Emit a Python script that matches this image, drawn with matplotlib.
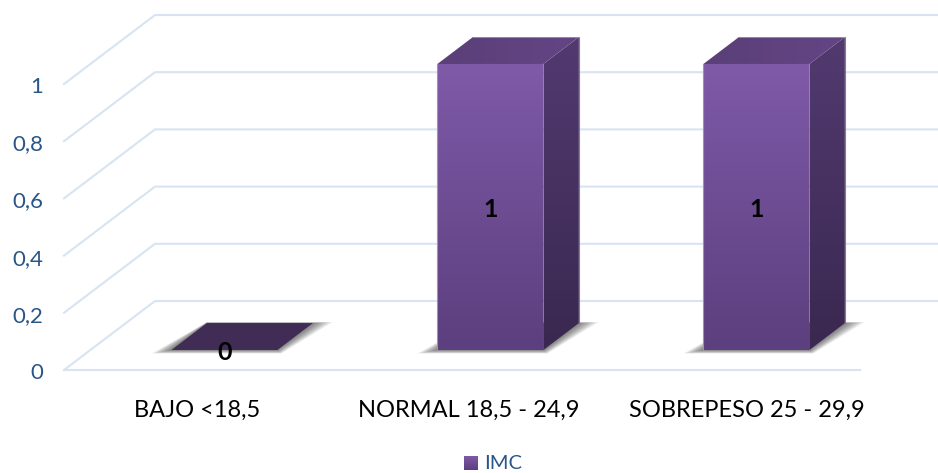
import numpy as np
import matplotlib
matplotlib.use("Agg")
import matplotlib.pyplot as plt
from matplotlib.colors import LinearSegmentedColormap
from matplotlib.patches import Polygon

categories = ["BAJO <18,5", "NORMAL 18,5 - 24,9", "SOBREPESO 25 - 29,9"]
values = [0, 1, 1]
value_labels = ["0", "1", "1"]
grid_levels = [0, 0.2, 0.4, 0.6, 0.8, 1]
tick_labels = ["0", "0,2", "0,4", "0,6", "0,8", "1"]
series_name = "IMC"

plt.rcParams["font.family"] = ["Lato", "DejaVu Sans"]

BLUE = "#2a5587"
GRID = "#d8e4f3"

# oblique projection: value scale plus a depth shift, in figure pixels
y0, unit = 370, 286
dx, dy = 91, -69
near, far = 0.29, 0.68
bar_w = 106
left0, step = 145, 266
label_x = [197, 469, 747]


def project(x, v, d=0):
    return x + dx * d, y0 - unit * v + dy * d


def shaded(ax, pts, top, bottom, horizontal=False):
    # polygon filled with a linear gradient
    poly = Polygon(pts, closed=True, fc="none", ec="none", transform=ax.transData)
    ax.add_patch(poly)
    cmap = LinearSegmentedColormap.from_list("g", [top, bottom])
    grad = np.linspace(0, 1, 256).reshape(-1, 1)
    if horizontal:
        grad = grad.T
    xs, ys = zip(*pts)
    im = ax.imshow(grad, cmap=cmap, aspect="auto", zorder=3, interpolation="bilinear",
                   extent=(min(xs), max(xs), max(ys), min(ys)))
    im.set_clip_path(poly)


fig = plt.figure(figsize=(9.38, 4.73), dpi=100)
ax = fig.add_axes([0, 0, 1, 1])

# floor edge and the wall grid
for i, level in enumerate(grid_levels):
    xa, ya = project(64, level)
    xb, yb = project(64, level, 1)
    ax.plot([xa, xb, 938], [ya, yb, yb], color=GRID, lw=1.5, zorder=1,
            solid_joinstyle="miter")
    ax.text(43, ya + 1, tick_labels[i], color=BLUE, fontsize=16,
            ha="right", va="center_baseline")
ax.plot([64, 860], [y0, y0], color=GRID, lw=1.5, zorder=1)

for i, v in enumerate(values):
    x1 = left0 + i * step
    x2 = x1 + bar_w
    fl, fr = project(x1, 0, near), project(x2, 0, near)
    bl, br = project(x1, 0, far), project(x2, 0, far)

    # soft shadow spreading over the floor around the footprint
    for grow in np.linspace(20, 1, 12):
        ax.add_patch(Polygon(
            [(fl[0] - grow, fl[1] + grow * 0.18), (fr[0] + grow * 0.2, fr[1] + grow * 0.18),
             (br[0] + grow, br[1] - grow * 0.05), (bl[0], bl[1] - grow * 0.05)],
            closed=True, fc="#000000", ec="none", alpha=0.05, zorder=2))

    tl, tr = project(x1, v, near), project(x2, v, near)
    tbl, tbr = project(x1, v, far), project(x2, v, far)
    if v > 0:
        shaded(ax, [fl, fr, tr, tl], "#7f5aa8", "#5c3f7e")
        shaded(ax, [fr, br, tbr, tr], "#523a70", "#3a2850")
        shaded(ax, [tl, tr, tbr, tbl], "#5a3f78", "#644584", horizontal=True)
        ax.plot([tl[0], fl[0]], [tl[1], fl[1]], color="#a48cc4", lw=0.8, zorder=4)
        ax.plot([tbr[0], br[0]], [tbr[1], br[1]], color="#8a72a8", lw=0.8, zorder=4)
        ax.plot([tbl[0], tbr[0]], [tbl[1], tbr[1]], color="#a48cc4", lw=0.6, zorder=4)
    else:
        ax.add_patch(Polygon([fl, fr, br, bl], closed=True, fc="#412c55", ec="none", zorder=3))

    ax.text((fl[0] + fr[0]) / 2, (fl[1] + tl[1]) / 2 + 1, value_labels[i], color="black",
            fontsize=18, fontweight="bold", ha="center", va="center_baseline", zorder=6)
    ax.text(label_x[i], 408, categories[i], color="black", fontsize=17,
            ha="center", va="center_baseline")

# legend
shaded(ax, [(464, 456), (478, 456), (478, 470), (464, 470)], "#7f5aa8", "#5c3f7e")
ax.text(484, 462, series_name, color=BLUE, fontsize=14.5,
        ha="left", va="center_baseline")

ax.set_xlim(0, 938)
ax.set_ylim(473, 0)
ax.axis("off")
fig.savefig("out.png", dpi=100)
